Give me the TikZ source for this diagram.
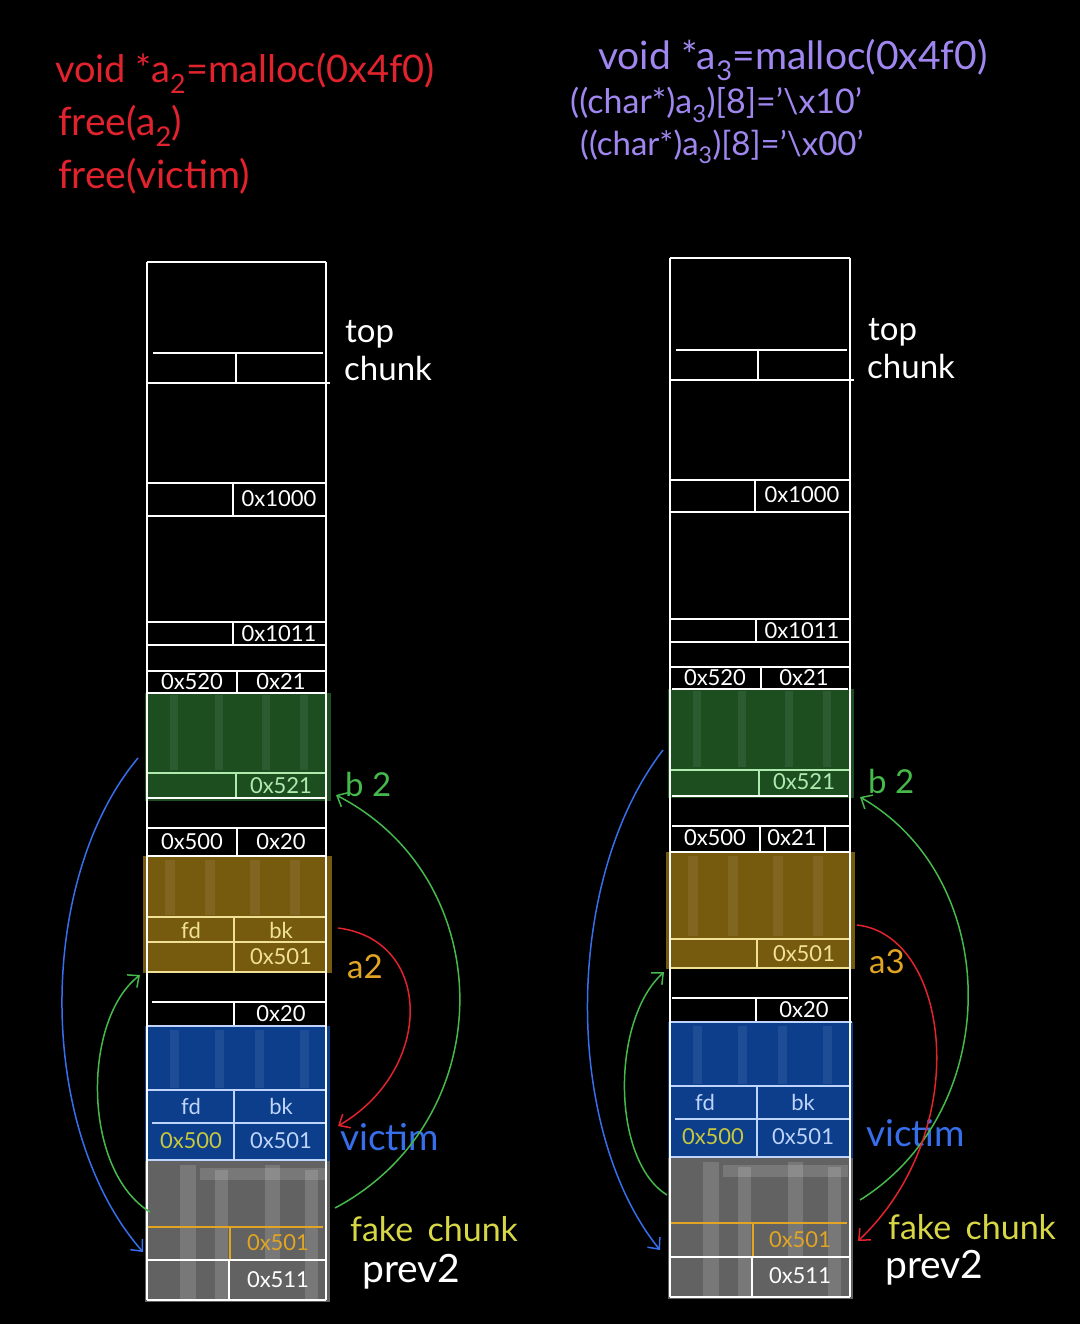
\documentclass[tikz,border=0pt]{standalone}
\usepackage{fontspec}
\setmainfont{Lato}
\usetikzlibrary{arrows.meta}
\definecolor{redink}{RGB}{225,35,45}
\definecolor{purpleink}{RGB}{160,135,240}
\definecolor{greenfill}{RGB}{28,78,32}
\definecolor{goldfill}{RGB}{118,90,14}
\definecolor{bluefill}{RGB}{12,62,140}
\definecolor{grayfill}{RGB}{98,98,98}
\definecolor{greenink}{RGB}{70,185,75}
\definecolor{blueink}{RGB}{55,110,235}
\definecolor{goldink}{RGB}{225,165,35}
\definecolor{yellowink}{RGB}{215,215,70}
\definecolor{olive}{RGB}{200,200,60}
\definecolor{lgreen}{RGB}{175,235,175}
\definecolor{lgold}{RGB}{240,225,150}
\definecolor{lblue}{RGB}{190,212,250}
\tikzset{
  cell/.style={line width=1.6pt, draw=white},
  ctext/.style={text=white, font=\fontsize{22}{22}\selectfont, inner sep=0pt, anchor=center},
  lbl/.style={font=\fontsize{33}{33}\selectfont, inner sep=0pt, anchor=west},
  codetext/.style={font=\fontsize{39}{44}\selectfont, inner sep=0pt, anchor=west},
  ptr/.style={line width=1.5pt, -{Straight Barb[length=9pt,width=16pt]}},
  streak/.style={fill=white, opacity=0.08, draw=none},
  gstreak/.style={fill=white, opacity=0.14, draw=none}
}
\begin{document}
\begin{tikzpicture}[x=1pt,y=-1pt]
\useasboundingbox (0,0) rectangle (1080,1324);
\fill[black] (0,0) rectangle (1080,1324);

% ---------------- top code text ----------------
\node[codetext, text=redink, font=\fontsize{38}{44}\selectfont] (lc1) at (55,73) {void *a\textsubscript{2}=malloc(0x4f0)};
\node[codetext, text=redink] (lc2) at (58,126) {free(a\textsubscript{2})};
\node[codetext, text=redink] (lc3) at (58,176) {free(victim)};
\node[codetext, text=purpleink] (rc1) at (598,60) {void *a\textsubscript{3}=malloc(0x4f0)};
\node[codetext, text=purpleink, font=\fontsize{34}{38}\selectfont] (rc2) at (570,105) {((char*)a\textsubscript{3})[8]='\textbackslash x10'};
\node[codetext, text=purpleink, font=\fontsize{33}{38}\selectfont] (rc3) at (580,147) {((char*)a\textsubscript{3})[8]='\textbackslash x00'};

% ================= LEFT COLUMN =================
% fills
\fill[greenfill] (145,693) rectangle (331,801);
\fill[goldfill] (143,856) rectangle (332,973);
\fill[bluefill] (145,1026) rectangle (330,1161);
\fill[grayfill] (145,1161) rectangle (330,1302);
\foreach \x in {170,215,262,300}{\fill[streak] (\x,695) rectangle (\x+8,770);}
\foreach \x in {165,205,250,290}{\fill[streak] (\x,860) rectangle (\x+10,915);}
\foreach \x in {170,215,255,300}{\fill[streak] (\x,1030) rectangle (\x+9,1088);}
\fill[gstreak] (180,1165) rectangle (196,1300);
\fill[gstreak] (215,1170) rectangle (228,1300);
\fill[gstreak] (265,1165) rectangle (280,1260);
\fill[gstreak] (305,1170) rectangle (318,1300);
\fill[gstreak] (200,1168) rectangle (325,1180);
% rows
\draw[cell] (147,262) -- (326,262);
\draw[cell] (153,353) -- (323,353);
\draw[cell] (147,383) -- (330,383);
\draw[cell] (236,353) -- (236,383);
\draw[cell] (147,483) -- (326,483);
\draw[cell] (147,516) -- (326,516);
\draw[cell] (233,483) -- (233,516);
\draw[cell] (147,622) -- (326,622);
\draw[cell] (147,645) -- (326,645);
\draw[cell] (233,622) -- (233,645);
\draw[cell] (147,671) -- (326,671);
\draw[cell] (147,693) -- (326,693);
\draw[cell] (237,671) -- (237,693);
\draw[cell, draw=lgreen] (147,773) -- (326,773);
\draw[cell, draw=lgreen] (236,773) -- (236,798);
\draw[cell] (147,798) -- (326,798);
\draw[cell] (147,828) -- (326,828);
\draw[cell] (147,856) -- (326,856);
\draw[cell] (237,828) -- (237,856);
\draw[cell, draw=lgold] (147,917) -- (326,917);
\draw[cell, draw=lgold] (147,942) -- (326,942);
\draw[cell, draw=lgold] (147,972) -- (326,972);
\draw[cell, draw=lgold] (234,917) -- (234,972);
\draw[cell] (152,1002) -- (326,1002);
\draw[cell] (234,1002) -- (234,1026);
\draw[cell, draw=lblue] (147,1026) -- (326,1026);
\draw[cell, draw=lblue] (147,1090) -- (326,1090);
\draw[cell, draw=lblue] (152,1123) -- (326,1123);
\draw[cell, draw=lblue] (147,1160) -- (326,1160);
\draw[cell, draw=lblue] (234,1090) -- (234,1160);
\draw[cell, draw=goldink] (147,1227) -- (323,1227);
\draw[cell, draw=goldink] (230,1227) -- (230,1260);
\draw[cell] (147,1260) -- (326,1260);
\draw[cell] (229,1260) -- (229,1300);
\draw[cell] (147,1300) -- (326,1300);
\draw[cell] (147,262) -- (147,1300);
\draw[cell] (326,262) -- (326,1300);
% cell texts
\node[ctext] (l1000) at (279,499) {0x1000};
\node[ctext] (l1011) at (279,634) {0x1011};
\node[ctext] (l520) at (192,682) {0x520};
\node[ctext] (l21) at (281,682) {0x21};
\node[ctext, text=lgreen] (l521) at (281,786) {0x521};
\node[ctext] (l500a) at (192,842) {0x500};
\node[ctext] (l20a) at (281,842) {0x20};
\node[ctext, text=lgold] (lfda) at (191,930) {fd};
\node[ctext, text=lgold] (lbka) at (281,930) {bk};
\node[ctext, text=lgold] (l501a) at (281,957) {0x501};
\node[ctext] (l20b) at (281,1014) {0x20};
\node[ctext, text=lblue] (lfdv) at (191,1106) {fd};
\node[ctext, text=lblue] (lbkv) at (281,1106) {bk};
\node[ctext, text=olive] (l500v) at (191,1141) {0x500};
\node[ctext, text=lblue] (l501v) at (281,1141) {0x501};
\node[ctext, text=goldink] (l501f) at (278,1243) {0x501};
\node[ctext] (l511) at (278,1280) {0x511};
% labels
\node[lbl, text=white] (ltop) at (345,334) {top};
\node[lbl, text=white] (lchunk) at (344,368) {chunk};
\node[lbl, text=greenink] (lb2) at (345,784) {b 2};
\node[lbl, text=goldink] (la2) at (347,967) {a2};
\node[lbl, text=blueink, font=\fontsize{37}{37}\selectfont] (lvic) at (340,1137) {victim};
\node[lbl, text=yellowink, font=\fontsize{34}{34}\selectfont] (lfake) at (350,1229) {fake\, chunk};
\node[lbl, text=white, font=\fontsize{39}{39}\selectfont] (lprev) at (362,1272) {prev2};
% arrow ends
\coordinate (lbS) at (138,758);  \coordinate (lbE) at (143,1252);
\coordinate (lgS) at (150,1212); \coordinate (lgE) at (140,975);
\coordinate (lGS) at (335,1208); \coordinate (lGE) at (336,795);
\coordinate (lrS) at (338,928);  \coordinate (lrE) at (338,1126);
\draw[ptr, blueink] (lbS) .. controls (36,880) and (36,1130) .. (lbE);
\draw[ptr, greenink] (lgS) .. controls (82,1170) and (82,1020) .. (lgE);
\draw[ptr, greenink] (lGS) .. controls (501,1120) and (501,880) .. (lGE);
\draw[ptr, redink] (lrS) .. controls (434,940) and (434,1070) .. (lrE);

% ================= RIGHT COLUMN =================
\fill[greenfill] (668,689) rectangle (854,798);
\fill[goldfill] (666,852) rectangle (855,969);
\fill[bluefill] (668,1022) rectangle (853,1158);
\fill[grayfill] (668,1158) rectangle (853,1299);
\foreach \x in {693,738,785,823}{\fill[streak] (\x,691) rectangle (\x+8,767);}
\foreach \x in {688,728,773,813}{\fill[streak] (\x,856) rectangle (\x+10,936);}
\foreach \x in {693,738,778,823}{\fill[streak] (\x,1026) rectangle (\x+9,1084);}
\fill[gstreak] (703,1162) rectangle (719,1297);
\fill[gstreak] (738,1167) rectangle (751,1297);
\fill[gstreak] (788,1162) rectangle (803,1257);
\fill[gstreak] (828,1167) rectangle (841,1297);
\fill[gstreak] (723,1165) rectangle (848,1177);
\draw[cell] (670,258) -- (850,258);
\draw[cell] (676,350) -- (847,350);
\draw[cell] (670,380) -- (854,380);
\draw[cell] (758,350) -- (758,380);
\draw[cell] (670,480) -- (850,480);
\draw[cell] (670,512) -- (850,512);
\draw[cell] (755,480) -- (755,512);
\draw[cell] (670,619) -- (850,619);
\draw[cell] (670,642) -- (850,642);
\draw[cell] (756,619) -- (756,642);
\draw[cell] (670,667) -- (850,667);
\draw[cell] (672,689) -- (848,689);
\draw[cell] (761,667) -- (761,689);
\draw[cell, draw=lgreen] (670,770) -- (850,770);
\draw[cell, draw=lgreen] (759,770) -- (759,796);
\draw[cell] (672,796) -- (848,796);
\draw[cell] (672,826) -- (850,826);
\draw[cell] (670,852) -- (850,852);
\draw[cell] (760,826) -- (760,852);
\draw[cell] (825,826) -- (825,852);
\draw[cell, draw=lgold] (670,939) -- (850,939);
\draw[cell, draw=lgold] (670,968) -- (850,968);
\draw[cell, draw=lgold] (757,939) -- (757,968);
\draw[cell] (672,998) -- (848,998);
\draw[cell] (756,998) -- (756,1022);
\draw[cell, draw=lblue] (670,1022) -- (852,1022);
\draw[cell, draw=lblue] (670,1086) -- (850,1086);
\draw[cell, draw=lblue] (675,1119) -- (850,1119);
\draw[cell, draw=lblue] (670,1157) -- (850,1157);
\draw[cell, draw=lblue] (757,1086) -- (757,1157);
\draw[cell, draw=goldink] (670,1223) -- (847,1223);
\draw[cell, draw=goldink] (753,1223) -- (753,1257);
\draw[cell] (670,1257) -- (850,1257);
\draw[cell] (752,1257) -- (752,1297);
\draw[cell] (670,1297) -- (850,1297);
\draw[cell] (670,258) -- (670,1297);
\draw[cell] (850,258) -- (850,1297);
\node[ctext] (r1000) at (802,495) {0x1000};
\node[ctext] (r1011) at (802,631) {0x1011};
\node[ctext] (r520) at (715,678) {0x520};
\node[ctext] (r21) at (804,678) {0x21};
\node[ctext, text=lgreen] (r521) at (804,782) {0x521};
\node[ctext] (r500a) at (715,838) {0x500};
\node[ctext] (r21b) at (792,838) {0x21};
\node[ctext, text=lgold] (r501a) at (804,954) {0x501};
\node[ctext] (r20b) at (804,1010) {0x20};
\node[ctext, text=lblue] (rfdv) at (705,1102) {fd};
\node[ctext, text=lblue] (rbkv) at (803,1102) {bk};
\node[ctext, text=olive] (r500v) at (713,1137) {0x500};
\node[ctext, text=lblue] (r501v) at (803,1137) {0x501};
\node[ctext, text=goldink] (r501f) at (800,1240) {0x501};
\node[ctext] (r511) at (800,1276) {0x511};
\node[lbl, text=white] (rtop) at (868,332) {top};
\node[lbl, text=white] (rchunk) at (867,366) {chunk};
\node[lbl, text=greenink] (rb2) at (868,781) {b 2};
\node[lbl, text=goldink] (ra3) at (869,962) {a3};
\node[lbl, text=blueink, font=\fontsize{37}{37}\selectfont] (rvic) at (866,1133) {victim};
\node[lbl, text=yellowink, font=\fontsize{34}{34}\selectfont] (rfake) at (888,1227) {fake\, chunk};
\node[lbl, text=white, font=\fontsize{39}{39}\selectfont] (rprev) at (885,1268) {prev2};
\coordinate (rbS) at (663,750);  \coordinate (rbE) at (660,1250);
\coordinate (rgS) at (667,1195); \coordinate (rgE) at (664,972);
\coordinate (rGS) at (860,1200); \coordinate (rGE) at (860,797);
\coordinate (rrS) at (857,925);  \coordinate (rrE) at (858,1241);
\draw[ptr, blueink] (rbS) .. controls (563,880) and (563,1130) .. (rbE);
\draw[ptr, greenink] (rgS) .. controls (611,1160) and (611,1020) .. (rgE);
\draw[ptr, greenink] (rGS) .. controls (1004,1110) and (1004,880) .. (rGE);
\draw[ptr, redink] (rrS) .. controls (950,935) and (975,1130) .. (rrE);
\end{tikzpicture}
\end{document}
